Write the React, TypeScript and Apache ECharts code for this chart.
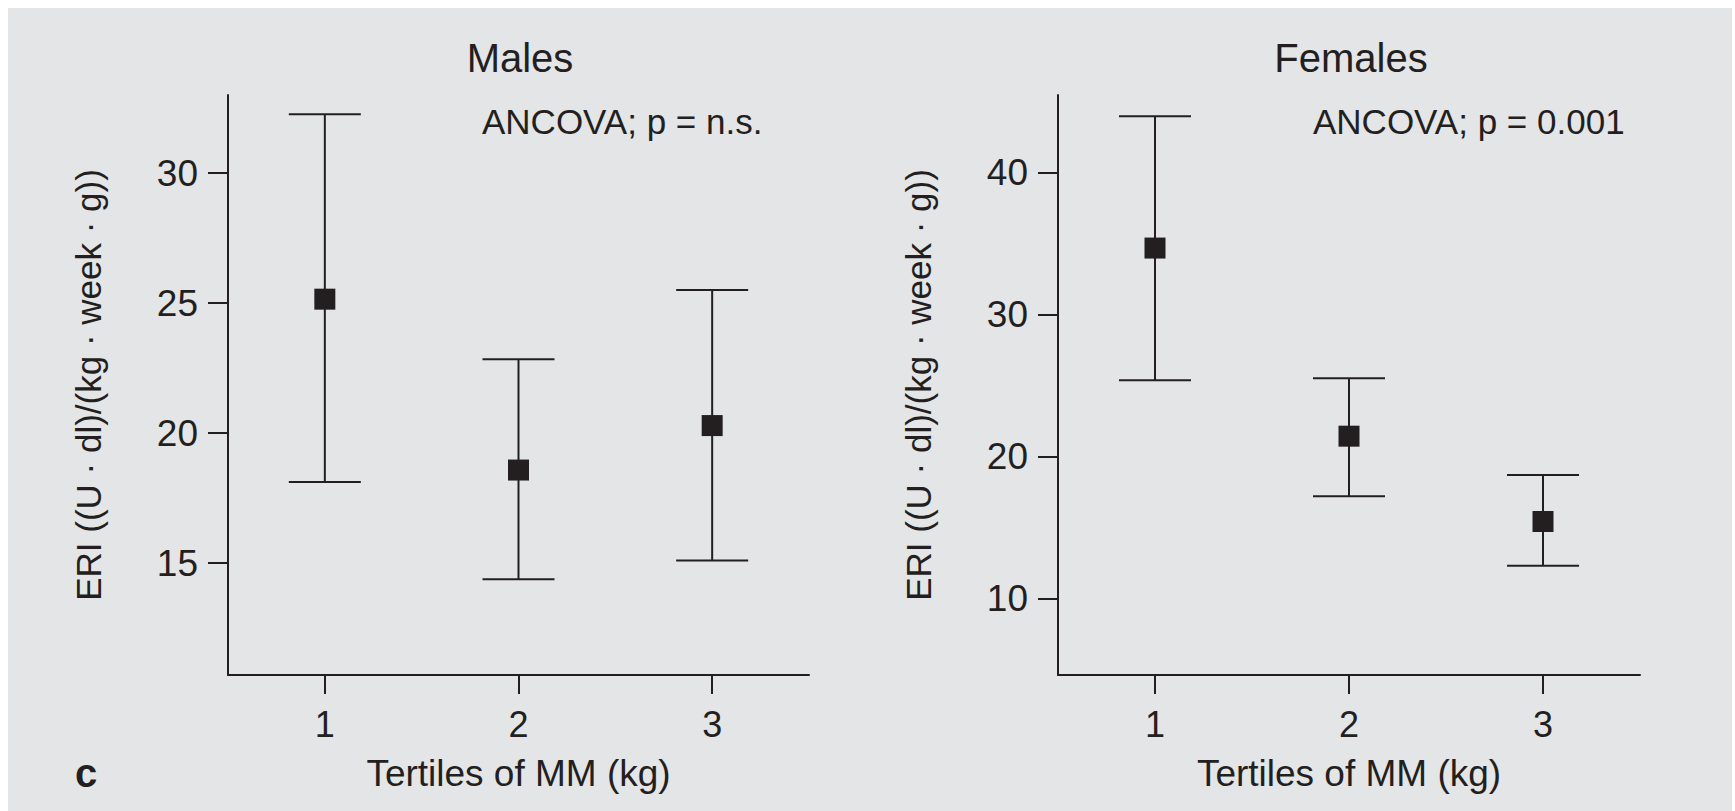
import React, { useEffect, useRef } from "react";
import * as echarts from "echarts";

const categories = ["1", "2", "3"];

const malesMean = [25.15, 18.58, 20.29];
const malesUpper = [32.26, 22.84, 25.5];
const malesLower = [18.12, 14.38, 15.1];

const femalesMean = [34.67, 21.42, 15.41];
const femalesUpper = [43.95, 25.5, 18.68];
const femalesLower = [25.36, 17.19, 12.3];

const malesTicks = [15, 20, 25, 30];
const femalesTicks = [10, 20, 30, 40];

const INK = "#231f20";
const FONT = "Liberation Sans";

function errorBarSeries(idx: number, lower: number[], upper: number[]) {
  return {
    type: "custom",
    xAxisIndex: idx,
    yAxisIndex: idx,
    silent: true,
    z: 2,
    data: lower.map((lo, i) => [i, lo, upper[i]]),
    encode: { x: 0, y: [1, 2] },
    renderItem: (params: any, api: any) => {
      const x = api.value(0);
      const lo = api.value(1);
      const hi = api.value(2);
      const pHi = api.coord([x, hi]);
      const pLo = api.coord([x, lo]);
      const hw = 36;
      const style = { stroke: INK, lineWidth: 2 };
      return {
        type: "group",
        children: [
          { type: "line", shape: { x1: pHi[0], y1: pHi[1], x2: pLo[0], y2: pLo[1] }, style },
          { type: "line", shape: { x1: pHi[0] - hw, y1: pHi[1], x2: pHi[0] + hw, y2: pHi[1] }, style },
          { type: "line", shape: { x1: pLo[0] - hw, y1: pLo[1], x2: pLo[0] + hw, y2: pLo[1] }, style },
        ],
      };
    },
  };
}

function meanSeries(idx: number, means: number[]) {
  return {
    type: "scatter",
    xAxisIndex: idx,
    yAxisIndex: idx,
    z: 5,
    symbol: "rect",
    symbolSize: 21,
    itemStyle: { color: INK, opacity: 1 },
    data: means,
  };
}

function xAxisDef(idx: number) {
  return {
    type: "category",
    gridIndex: idx,
    data: categories,
    boundaryGap: true,
    name: "Tertiles of MM (kg)",
    nameLocation: "middle",
    nameGap: 80,
    nameTextStyle: { color: INK, fontSize: 37, fontFamily: FONT },
    axisLine: { show: true, onZero: false, lineStyle: { color: INK, width: 2 } },
    axisTick: { show: true, alignWithLabel: true, length: 19, lineStyle: { color: INK, width: 2 } },
    axisLabel: { color: INK, fontSize: 36, fontFamily: FONT, margin: 31 },
    splitLine: { show: false },
  };
}

function yAxisDef(idx: number, min: number, max: number, ticks: number[]) {
  return {
    type: "value",
    gridIndex: idx,
    min,
    max,
    name: "ERI ((U · dl)/(kg · week · g))",
    nameLocation: "middle",
    nameGap: 122,
    nameTextStyle: { color: INK, fontSize: 35, fontFamily: FONT },
    axisLine: { show: true, lineStyle: { color: INK, width: 2 } },
    axisTick: { show: true, length: 20, customValues: ticks, lineStyle: { color: INK, width: 2 } },
    axisLabel: { show: true, color: INK, fontSize: 37, fontFamily: FONT, margin: 30, customValues: ticks },
    splitLine: { show: false },
  };
}

export default function App() {
  const ref = useRef<HTMLDivElement>(null);
  useEffect(() => {
    if (!ref.current) return;
    const chart = echarts.init(ref.current, undefined, { renderer: "svg" });
    chart.setOption({
      animation: false,
      backgroundColor: "#e4e5e7",
      grid: [
        { left: 220, top: 87, width: 581, height: 580 },
        { left: 1050, top: 87, width: 582, height: 580 },
      ],
      xAxis: [xAxisDef(0), xAxisDef(1)],
      yAxis: [
        yAxisDef(0, 10.7, 33.0, malesTicks),
        yAxisDef(1, 4.6, 45.45, femalesTicks),
      ],
      series: [
        errorBarSeries(0, malesLower, malesUpper),
        meanSeries(0, malesMean),
        errorBarSeries(1, femalesLower, femalesUpper),
        meanSeries(1, femalesMean),
      ],
      graphic: [
        {
          type: "text",
          left: undefined,
          x: 512,
          y: 50,
          style: { text: "Males", fill: INK, font: `40px "${FONT}"`, align: "center", verticalAlign: "middle" },
        },
        {
          type: "text",
          x: 1343,
          y: 50,
          style: { text: "Females", fill: INK, font: `40px "${FONT}"`, align: "center", verticalAlign: "middle" },
        },
        {
          type: "text",
          x: 474,
          y: 113,
          style: { text: "ANCOVA; p = n.s.", fill: INK, font: `35px "${FONT}"`, align: "left", verticalAlign: "middle" },
        },
        {
          type: "text",
          x: 1305,
          y: 113,
          style: { text: "ANCOVA; p = 0.001", fill: INK, font: `35px "${FONT}"`, align: "left", verticalAlign: "middle" },
        },
        {
          type: "text",
          x: 67,
          y: 765,
          style: { text: "c", fill: INK, font: `bold 40px "${FONT}"`, align: "left", verticalAlign: "middle" },
        },
      ],
    });
    return () => chart.dispose();
  }, []);
  return (
    <div
      ref={ref}
      style={{ position: "absolute", left: 8, top: 8, width: 1724, height: 803 }}
    />
  );
}
